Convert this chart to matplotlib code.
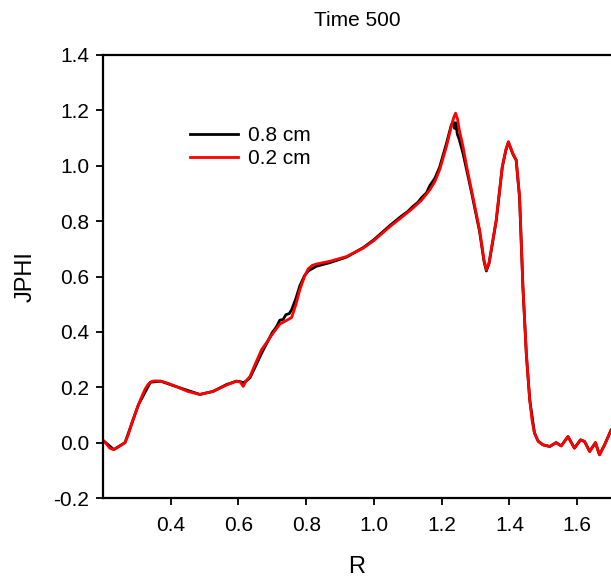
import matplotlib
matplotlib.use("Agg")
import matplotlib.pyplot as plt

plt.rcParams['font.family'] = ['Liberation Sans', 'DejaVu Sans']

title = "Time 500"
x_label = "R"
y_label = "JPHI"
series_labels = ["0.8 cm", "0.2 cm"]

red_x = [0.200, 0.207, 0.220, 0.232, 0.242, 0.255, 0.265, 0.275, 0.285, 0.295,
         0.305, 0.315, 0.325, 0.333, 0.340, 0.347, 0.355, 0.370, 0.390, 0.417,
         0.450, 0.486, 0.525, 0.565, 0.594, 0.606, 0.614, 0.622, 0.634, 0.650,
         0.668, 0.685, 0.702, 0.722, 0.740, 0.757, 0.770, 0.781, 0.795, 0.806,
         0.818, 0.830, 0.870, 0.919, 0.968, 1.000, 1.047, 1.080, 1.115, 1.140,
         1.165, 1.180, 1.194, 1.214, 1.228, 1.235, 1.241, 1.247, 1.252, 1.263,
         1.275, 1.288, 1.312, 1.325, 1.332, 1.340, 1.361, 1.379, 1.390, 1.397,
         1.410, 1.420, 1.430, 1.440, 1.450, 1.460, 1.467, 1.474, 1.485, 1.499,
         1.519, 1.538, 1.553, 1.573, 1.592, 1.610, 1.622, 1.637, 1.654, 1.666,
         1.681, 1.700]
red_y = [0.008, 0.000, -0.020, -0.025, -0.018, -0.008, 0.000, 0.030, 0.070, 0.105,
         0.138, 0.168, 0.195, 0.210, 0.218, 0.222, 0.223, 0.222, 0.215, 0.202,
         0.185, 0.174, 0.185, 0.208, 0.222, 0.218, 0.203, 0.222, 0.239, 0.285,
         0.335, 0.365, 0.395, 0.428, 0.440, 0.452, 0.500, 0.552, 0.600, 0.628,
         0.640, 0.645, 0.655, 0.672, 0.702, 0.730, 0.780, 0.812, 0.847, 0.875,
         0.913, 0.943, 0.985, 1.069, 1.140, 1.172, 1.190, 1.168, 1.130, 1.069,
         0.990, 0.913, 0.768, 0.660, 0.624, 0.650, 0.804, 0.997, 1.060, 1.087,
         1.045, 1.021, 0.888, 0.560, 0.320, 0.155, 0.080, 0.035, 0.005, -0.008,
         -0.014, 0.000, -0.012, 0.022, -0.020, 0.010, 0.004, -0.032, 0.000, -0.044,
         -0.008, 0.045]

black_x = [0.200, 0.232, 0.265, 0.305, 0.340, 0.370, 0.417, 0.486, 0.525, 0.565,
           0.594, 0.606, 0.614, 0.622, 0.634, 0.650, 0.668, 0.685, 0.700, 0.712,
           0.722, 0.732, 0.740, 0.750, 0.757, 0.770, 0.781, 0.795, 0.806, 0.830,
           0.870, 0.919, 0.968, 1.000, 1.047, 1.080, 1.100, 1.115, 1.130, 1.140,
           1.155, 1.165, 1.180, 1.194, 1.214, 1.228, 1.234, 1.238, 1.242, 1.246,
           1.252, 1.263, 1.275, 1.288, 1.312, 1.325, 1.332, 1.340, 1.361, 1.379,
           1.390, 1.397, 1.410, 1.420, 1.430, 1.440, 1.450, 1.460, 1.474, 1.485,
           1.499, 1.519, 1.538, 1.553, 1.573, 1.592, 1.610, 1.622, 1.637, 1.654,
           1.666, 1.681, 1.700]
black_y = [0.008, -0.025, 0.000, 0.138, 0.218, 0.222, 0.202, 0.174, 0.185, 0.210,
           0.222, 0.220, 0.216, 0.222, 0.234, 0.275, 0.322, 0.362, 0.398, 0.418,
           0.442, 0.445, 0.462, 0.466, 0.480, 0.522, 0.566, 0.603, 0.620, 0.637,
           0.650, 0.670, 0.704, 0.733, 0.784, 0.817, 0.835, 0.853, 0.868, 0.884,
           0.902, 0.928, 0.955, 0.995, 1.080, 1.145, 1.160, 1.135, 1.155, 1.115,
           1.095, 1.045, 0.978, 0.905, 0.762, 0.655, 0.620, 0.648, 0.800, 0.995,
           1.058, 1.085, 1.043, 1.020, 0.885, 0.560, 0.320, 0.155, 0.035, 0.005,
           -0.008, -0.014, 0.000, -0.012, 0.022, -0.020, 0.010, 0.004, -0.032, 0.000,
           -0.044, -0.008, 0.045]

x_ticks = [0.4, 0.6, 0.8, 1.0, 1.2, 1.4, 1.6]
y_ticks = [-0.2, 0.0, 0.2, 0.4, 0.6, 0.8, 1.0, 1.2, 1.4]

W, H = 611, 580
fig = plt.figure(figsize=(W / 100, H / 100), dpi=100)
ax = fig.add_axes([103 / W, 1 - 498 / H, (W - 103) / W, (498 - 55) / H])

ax.plot(black_x, black_y, color='black', lw=2.0, label=series_labels[0])
ax.plot(red_x, red_y, color='#ff0000', lw=2.0, label=series_labels[1])

ax.set_xlim(0.2, 1.7)
ax.set_ylim(-0.2, 1.4)
ax.set_xticks(x_ticks)
ax.set_xticklabels([f"{v:.1f}" for v in x_ticks])
ax.set_yticks(y_ticks)
ax.set_yticklabels([f"{v:.1f}" for v in y_ticks])
ax.tick_params(direction='out', length=5, width=1.3, labelsize=15, pad=5, colors='black')
ax.tick_params(axis='x', pad=8)
ax.spines['right'].set_visible(False)
for s in ['left', 'bottom', 'top']:
    ax.spines[s].set_linewidth(1.6)

ax.set_title(title, fontsize=15, pad=21)
ax.set_xlabel(x_label, fontsize=17, labelpad=15)
ax.set_ylabel(y_label, fontsize=17, labelpad=12)

ax.legend(loc='upper left', bbox_to_anchor=((190 - 103) / (W - 103), 1 - (126 - 55) / (498 - 55)),
          frameon=False, fontsize=15, handlelength=2.3, handletextpad=0.5,
          labelspacing=0.2, borderpad=0, borderaxespad=0)

fig.savefig("out.png", dpi=100)
